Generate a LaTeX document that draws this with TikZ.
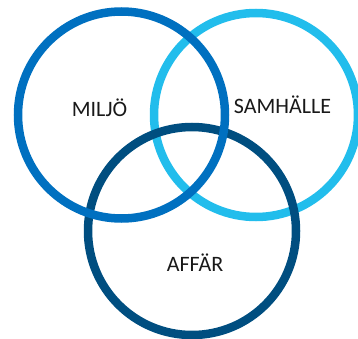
\documentclass[tikz,border=0pt]{standalone}
\usepackage{xcolor}
\usepackage{fontspec}
\setmainfont{Carlito}
\usepackage{tikz}

\definecolor{miljoblue}{RGB}{0,112,192}
\definecolor{samhblue}{RGB}{34,189,236}
\definecolor{affarblue}{RGB}{0,78,128}

\begin{document}
\begin{tikzpicture}[x=1pt, y=1pt,
    ring/.style={line width=8.5pt},
    venntext/.style={anchor=base, font=\fontsize{22}{24}\selectfont, text=black!90}]
    \useasboundingbox (0,0) rectangle (358,338);

    % --- CIRCLE CENTRES ---
    \coordinate (miljo) at (121.5,223);
    \coordinate (samh) at (256,223);
    \coordinate (affar) at (192,107);

    % --- RINGS (light first, left blue on top) ---
    \draw[ring, samhblue] (samh) circle (102);
    \draw[ring, affarblue] (affar) circle (104);
    \draw[ring, miljoblue] (miljo) circle (103.5);

    % --- LABELS ---
    \node[venntext] (tmiljo) at (99.5,222) {MILJÖ};
    \node[venntext] (tsamh) at (282.5,225) {SAMHÄLLE};
    \node[venntext] (taffar) at (195,66.5) {AFFÄR};
\end{tikzpicture}
\end{document}
